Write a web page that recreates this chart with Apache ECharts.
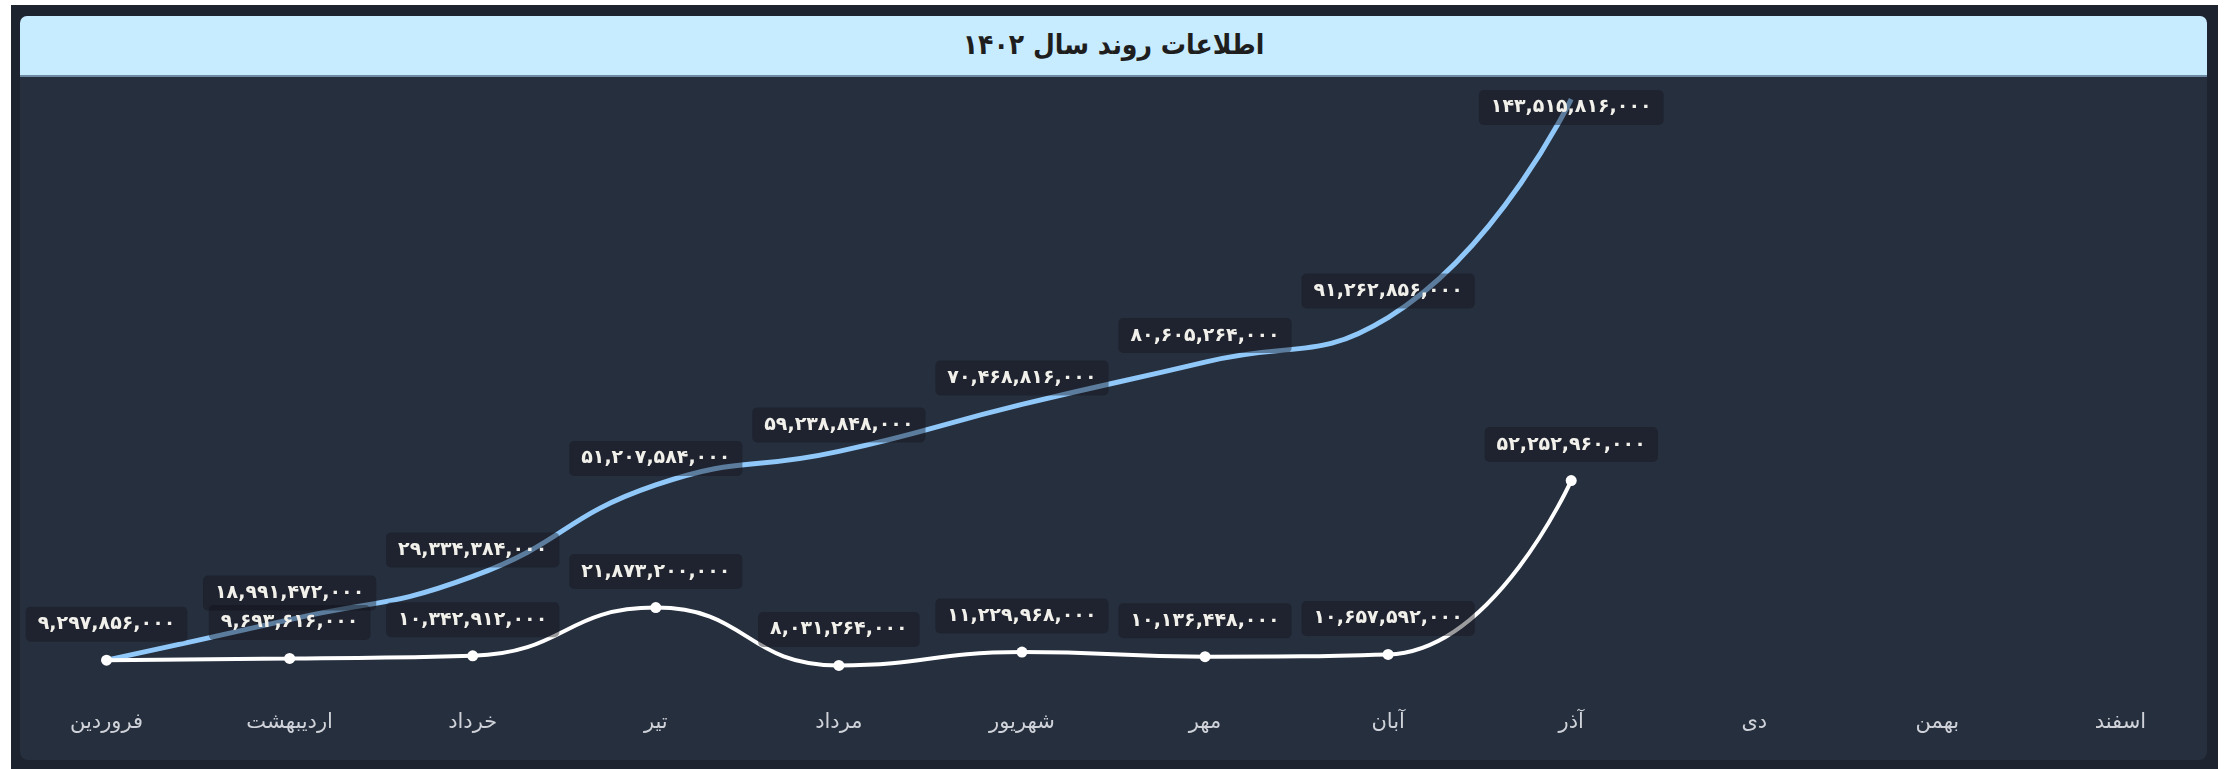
<!DOCTYPE html>
<html>
<head>
<meta charset="utf-8">
<script src="https://cdn.jsdelivr.net/npm/echarts@6/dist/echarts.min.js"></script>
<style>
  html, body { margin: 0; padding: 0; background: #ffffff; }
  .outer-box {
    position: absolute; left: 11px; top: 5px; width: 2207px; height: 770px;
    background: #1d2430;
  }
  .panel {
    position: absolute; left: 20px; top: 16px; width: 2187px; height: 744px;
    background: #262f3e; border-radius: 8px;
  }
  .panel-title {
    position: absolute; left: 20px; top: 16px; width: 2187px; height: 59px;
    background: #c8ecff; border-radius: 7px 7px 0 0;
    border-bottom: 2px solid #6f8ba3;
    text-align: center; line-height: 57px;
    font-family: "DejaVu Sans Condensed", "DejaVu Sans", sans-serif;
    font-weight: bold; font-size: 28px; color: #1e1e1e;
    direction: rtl;
  }
  #chartBox {
    position: absolute; left: 0; top: 0; width: 2234px; height: 769px;
  }
</style>
</head>
<body>
<div class="outer-box"></div>
<div class="panel"></div>
<div class="panel-title">اطلاعات روند سال ۱۴۰۲</div>
<div id="chartBox"></div>
<script>
// months of 1402
var months = ['فروردین', 'اردیبهشت', 'خرداد', 'تیر', 'مرداد', 'شهریور', 'مهر', 'آبان', 'آذر', 'دی', 'بهمن', 'اسفند']
// cumulative total
var cumulativeValues = [9297856000, 18991472000, 29334384000, 51207584000, 59238848000, 70468816000, 80605264000, 91262856000, 143515816000]
// monthly amount
var monthlyValues = [9297856000, 9693616000, 10342912000, 21873200000, 8031264000, 11229968000, 10136448000, 10657592000, 52252960000]

var faDigits = '۰۱۲۳۴۵۶۷۸۹'
function toFa(num) {
  return Number(num).toLocaleString('en-US').replace(/[0-9]/g, function (d) { return faDigits[+d] })
}

var labelStyle = {
  show: true,
  position: 'top',
  formatter: function (p) { return toFa(p.value) },
  color: '#f2f0ea',
  fontFamily: 'DejaVu Sans',
  fontWeight: 'bold',
  fontSize: 19,
  backgroundColor: 'rgba(18, 20, 26, 0.42)',
  padding: [8, 12],
  borderRadius: 5
}

// first point is shared with the monthly series, only one label is shown there
var cumulativeData = cumulativeValues.map(function (v, i) {
  return i === 0 ? { value: v, label: { show: false } } : v
})

var chartBox = echarts.init(document.getElementById('chartBox'))
var option = {
  animation: false,
  grid: {
    left: 15,
    width: 2197,
    top: 72,
    height: 627
  },
  xAxis: {
    type: 'category',
    data: months,
    boundaryGap: true,
    axisLine: { show: false },
    axisTick: { show: false },
    axisLabel: {
      color: '#cfd2d8',
      fontFamily: 'DejaVu Sans',
      fontSize: 21,
      margin: 13
    }
  },
  yAxis: {
    type: 'value',
    min: 0,
    max: 150000000000,
    show: false,
    splitLine: { show: false }
  },
  series: [
    {
      name: 'cumulative',
      type: 'line',
      smooth: true,
      data: cumulativeData,
      symbol: 'circle',
      symbolSize: 0,
      lineStyle: { color: '#90c8fa', width: 5 },
      itemStyle: { color: '#90c8fa' },
      label: Object.assign({}, labelStyle, { distance: 9 }),
      // keep the top label under the title bar
      labelLayout: function (params) {
        var r = params.labelRect
        if (r && r.y < 90) {
          return { dy: 90 - r.y }
        }
        return {}
      }
    },
    {
      name: 'monthly',
      type: 'line',
      smooth: true,
      data: monthlyValues,
      symbol: 'circle',
      symbolSize: 11,
      lineStyle: { color: '#ffffff', width: 4 },
      itemStyle: { color: '#ffffff' },
      label: Object.assign({}, labelStyle, { distance: 13 })
    }
  ]
}
chartBox.setOption(option)
</script>
</body>
</html>
